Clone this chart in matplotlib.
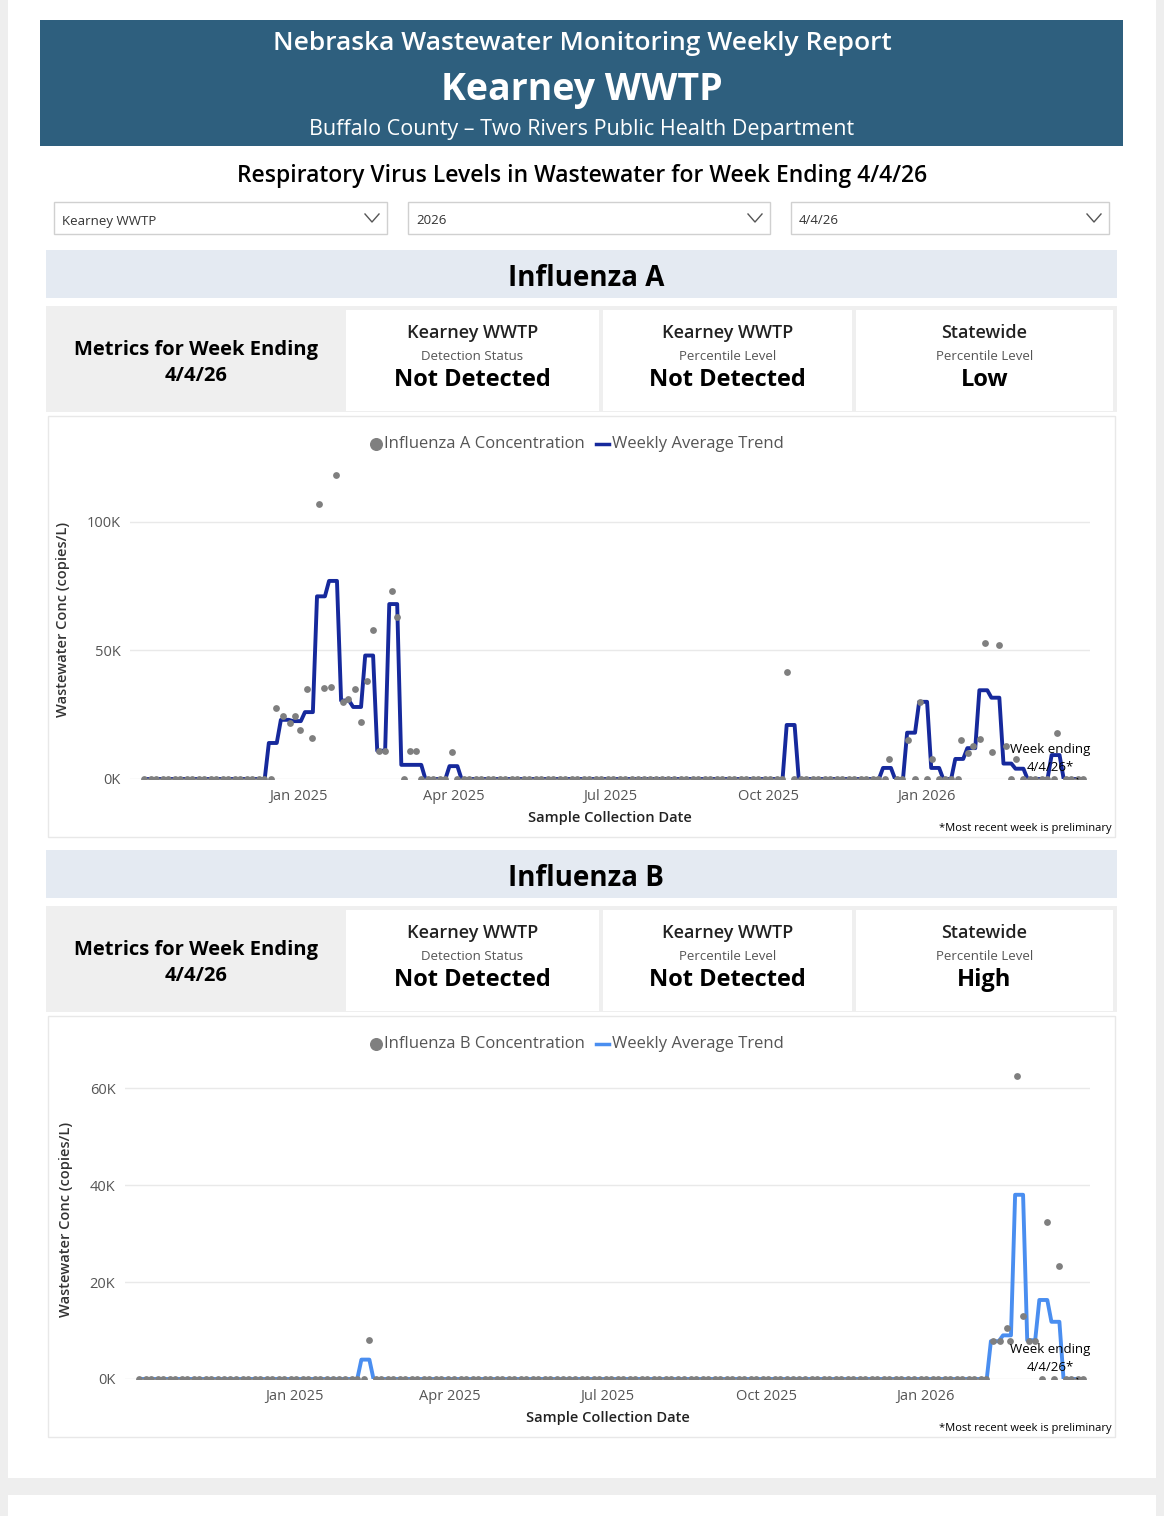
import matplotlib
matplotlib.use("Agg")
import matplotlib.pyplot as plt
from matplotlib.patches import Rectangle
import pandas as pd
import numpy as np

plt.rcParams['font.family'] = ['Open Sans', 'Lato', 'DejaVu Sans']

# ---------------- data ----------------
fluA_pt_dates = ["2024-12-19","2024-12-23","2024-12-27","2024-12-30","2025-01-02","2025-01-06","2025-01-09",
                 "2025-01-13","2025-01-16","2025-01-20","2025-01-23","2025-01-27","2025-01-30","2025-02-03",
                 "2025-02-06","2025-02-10","2025-02-13","2025-02-17","2025-02-20","2025-02-24","2025-02-27",
                 "2025-03-07","2025-03-10","2025-03-31","2025-10-12","2025-12-10","2025-12-21","2025-12-28",
                 "2026-01-04","2026-01-21","2026-01-25","2026-01-28","2026-02-01","2026-02-04","2026-02-08",
                 "2026-02-12","2026-02-16","2026-02-22","2026-03-18"]
fluA_pt_vals = [27.6,24.5,21.8,24.5,19,35,16,107,35.4,35.8,118,30,31,35,22,38,58,11,11,73,63,11,11,10.5,41.6,
                7.8,15,30,7.8,15,10,13,15.6,53,10.5,52,13,7.8,18]
fluA_trend_weeks = ["2024-12-17","2024-12-24","2024-12-31","2025-01-07","2025-01-14","2025-01-21","2025-01-28",
                    "2025-02-04","2025-02-11","2025-02-18","2025-02-25","2025-03-04","2025-03-11","2025-04-01",
                    "2025-10-14","2025-12-09","2025-12-23","2025-12-30","2026-01-06","2026-01-20","2026-01-27",
                    "2026-02-03","2026-02-10","2026-02-17","2026-02-24","2026-03-17"]
fluA_trend_vals = [14,23,22.5,26,71,77,30.5,28,48,11,68,5.5,5.5,5,21,4.3,18,30,4.3,7.8,12,34.5,31.6,6,4,9.3]

fluB_pt_dates = ["2025-02-13","2026-02-09","2026-02-13","2026-02-17","2026-02-19","2026-02-23","2026-02-26",
                 "2026-03-02","2026-03-05","2026-03-12","2026-03-19"]
fluB_pt_vals = [8,7.8,7.8,10.5,7.8,62.5,13,7.8,7.8,32.4,23.3]
fluB_trend_weeks = ["2025-02-11","2026-02-10","2026-02-17","2026-02-24","2026-03-03","2026-03-10","2026-03-17"]
fluB_trend_vals = [4,7.8,9,38,8,16.3,11.8]

start_date, end_date = "2024-10-03", "2026-04-02"

def sample_series(pdates, pvals):
    pdates = pd.to_datetime(pdates)
    zd = pd.date_range(start_date, end_date, freq="W-MON").union(pd.date_range(start_date, end_date, freq="W-THU"))
    keep = [d for d in zd if np.min(np.abs((pdates - d).days)) > 1]
    d = list(keep) + list(pdates)
    v = [0.0]*len(keep) + list(pvals)
    order = np.argsort(d)
    return np.array(d)[order], np.array(v)[order]

def trend_series(weeks, vals):
    weeks = pd.to_datetime(weeks)
    allw = pd.date_range("2024-10-01", "2026-03-31", freq="W-TUE")
    m = dict(zip(weeks, vals))
    xs, ys = [], []
    for w in allw:
        v = m.get(w, 0.0)
        xs += [w - pd.Timedelta(days=2.3), w + pd.Timedelta(days=2.3)]
        ys += [v, v]
    xs = [pd.Timestamp(start_date)] + xs[1:-1] + [pd.Timestamp(end_date)]
    ys = [0] + ys[1:-1] + [0]
    return xs, ys

# ---------------- figure ----------------
W, H = 1164, 1516
fig = plt.figure(figsize=(W/100, H/100), dpi=100)
fig.patch.set_facecolor("#eeeeee")
bg = fig.add_axes([0, 0, 1, 1])
bg.set_xlim(0, W); bg.set_ylim(H, 0); bg.axis("off")

def rect(x0, y0, x1, y1, fc, ec="none", lw=1, z=1):
    bg.add_patch(Rectangle((x0, y0), x1-x0, y1-y0, facecolor=fc, edgecolor=ec, lw=lw, zorder=z))

rect(8, 0, 1156, 1478, "white")
rect(8, 1495, 1156, 1516, "white")
rect(40, 20, 1123, 146, "#2e5f7e")
bg.text(582, 44, "Nebraska Wastewater Monitoring Weekly Report", color="white", fontsize=19, fontweight="semibold", ha="center", va="center")
bg.text(582, 90, "Kearney WWTP", color="white", fontsize=27, fontweight="bold", ha="center", va="center")
bg.text(582, 129, "Buffalo County – Two Rivers Public Health Department", color="white", fontsize=15.5, ha="center", va="center")
bg.text(582, 176, "Respiratory Virus Levels in Wastewater for Week Ending 4/4/26", color="black", fontsize=16.5, fontweight="semibold", ha="center", va="center")

for (x0, x1, t) in [(54, 387, "Kearney WWTP"), (408, 770, "2026"), (791, 1109, "4/4/26")]:
    rect(x0, 202, x1, 234, "white", ec="#d0d0d0", z=2)
    bg.text(x0+8, 221, t, fontsize=9.5, color="#333333", ha="left", va="center", zorder=3)
    bg.plot([x1-22, x1-15, x1-8], [214, 222, 214], color="#555555", lw=1, zorder=3)

def section(y0, name, metrics):
    rect(46, y0, 1117, y0+48, "#e4eaf2", z=2)
    bg.text(586, y0+28, name, fontsize=20, fontweight="bold", ha="center", va="center", zorder=3)
    my = y0 + 56
    rect(46, my, 1117, my+106, "#efefef", z=2)
    bg.text(196, my+57, "Metrics for Week Ending\n4/4/26", fontsize=14.5, fontweight="bold", ha="center", va="center", linespacing=1.4, zorder=3)
    for (x0, x1), (t, s, v) in zip([(346, 599), (603, 852), (856, 1113)], metrics):
        rect(x0, my+4, x1, my+105, "white", z=2)
        cx = (x0+x1)/2
        bg.text(cx, my+27, t, fontsize=13, fontweight="semibold", ha="center", va="center", color="#222222", zorder=3)
        bg.text(cx, my+50, s, fontsize=9.5, ha="center", va="center", color="#555555", zorder=3)
        bg.text(cx, my+74, v, fontsize=17, fontweight="bold", ha="center", va="center", zorder=3)
    rect(48, my+110, 1115, my+531, "white", ec="#e8e8e8", z=2)

section(250, "Influenza A", [("Kearney WWTP", "Detection Status", "Not Detected"),
                             ("Kearney WWTP", "Percentile Level", "Not Detected"),
                             ("Statewide", "Percentile Level", "Low")])
section(850, "Influenza B", [("Kearney WWTP", "Detection Status", "Not Detected"),
                             ("Kearney WWTP", "Percentile Level", "Not Detected"),
                             ("Statewide", "Percentile Level", "High")])

def chart(left, right, top, bottom, ymax, yticks, pdates, pvals, tweeks, tvals, color, name, card_top):
    ax = fig.add_axes([left/W, 1-bottom/H, (right-left)/W, (bottom-top)/H])
    ax.set_zorder(5); ax.patch.set_alpha(0)
    d, v = sample_series(pdates, pvals)
    tx, ty = trend_series(tweeks, tvals)
    ax.plot(tx, ty, color=color, lw=2.8, solid_joinstyle="round", solid_capstyle="round", zorder=3)
    ax.scatter(d, v, s=24, color="#7f7f7f", zorder=4, linewidths=0)
    ax.set_ylim(0, ymax)
    ax.set_xlim(pd.Timestamp("2024-09-25"), pd.Timestamp("2026-04-06"))
    ax.set_yticks(yticks)
    ax.set_yticklabels([f"{int(t)}K" for t in yticks])
    ax.set_xticks(pd.to_datetime(["2025-01-01", "2025-04-01", "2025-07-01", "2025-10-01", "2026-01-01"]))
    ax.set_xticklabels(["Jan 2025", "Apr 2025", "Jul 2025", "Oct 2025", "Jan 2026"])
    ax.grid(axis="y", color="#e9e9e9", lw=1)
    ax.set_axisbelow(True)
    for s in ax.spines.values():
        s.set_visible(False)
    ax.tick_params(length=0, labelsize=10.5, colors="#555555", pad=7)
    ax.set_ylabel("Wastewater Conc (copies/L)", fontsize=10.5, fontweight="semibold", color="#333333", labelpad=12)
    ax.set_xlabel("Sample Collection Date", fontsize=10.5, fontweight="semibold", color="#222222", labelpad=5)
    last = pd.Timestamp("2026-03-30")
    ax.annotate("Week ending\n4/4/26*", xy=(last, 0), xytext=(last - pd.Timedelta(days=16), ymax*0.065),
                fontsize=9.5, ha="center", va="center", linespacing=1.5,
                arrowprops=dict(arrowstyle="-", color="black", lw=0.8), zorder=6)
    ly = card_top + 28
    bg.scatter([376], [ly], s=70, color="#7f7f7f", zorder=3)
    bg.text(384, ly, f"{name} Concentration", fontsize=12, color="#555555", va="center", zorder=3)
    bg.plot([596, 609], [ly, ly], color=color, lw=2.5, zorder=3)
    bg.text(612, ly, "Weekly Average Trend", fontsize=12, color="#555555", va="center", zorder=3)
    bg.text(1112, card_top+412, "*Most recent week is preliminary", fontsize=8, ha="right", va="center", zorder=3)
    return ax

chart(130, 1090, 460, 779, 124, [0, 50, 100], fluA_pt_dates, fluA_pt_vals, fluA_trend_weeks, fluA_trend_vals,
      "#16299c", "Influenza A", 416)
chart(125, 1090, 1060, 1379, 65.8, [0, 20, 40, 60], fluB_pt_dates, fluB_pt_vals, fluB_trend_weeks, fluB_trend_vals,
      "#4a8ef0", "Influenza B", 1016)

fig.savefig("out.png", dpi=100, facecolor=fig.get_facecolor())
